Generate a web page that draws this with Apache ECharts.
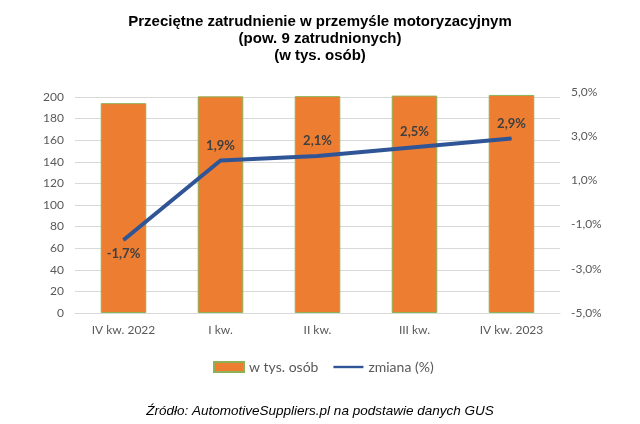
<!DOCTYPE html>
<html><head><meta charset="utf-8">
<script src="https://cdn.jsdelivr.net/npm/echarts@6/dist/echarts.min.js"></script>
<style>html,body{margin:0;padding:0;background:#fff}#c{width:640px;height:424px}</style>
</head><body><div id="c"></div>
<script>
var categories = ['IV kw. 2022', 'I kw.', 'II kw.', 'III kw.', 'IV kw. 2023'];
var employment = [194.3, 200.6, 200.8, 201.3, 201.9];
var change = [-1.7, 1.9, 2.1, 2.5, 2.9];
var leftTicks = [0, 20, 40, 60, 80, 100, 120, 140, 160, 180, 200];
var rightTicks = [-5, -3, -1, 1, 3, 5];

var chart = echarts.init(document.getElementById('c'), null, {renderer: 'canvas'});
var fmtPct = function (v) { return v.toFixed(1).replace('.', ',') + '%'; };
var lineData = change.map(function (v, i) {
  return i === 0 ? {value: v, label: {position: 'bottom', distance: 7}} : v;
});
chart.setOption({
  animation: false,
  backgroundColor: '#fff',
  title: [{
    text: 'Przeciętne zatrudnienie w przemyśle motoryzacyjnym\n(pow. 9 zatrudnionych)\n(w tys. osób)',
    left: 'center', top: 8,
    textStyle: {fontFamily: 'Liberation Sans', fontWeight: 'bold', fontSize: 15, color: '#000', lineHeight: 17}
  }, {
    text: 'Źródło: AutomotiveSuppliers.pl na podstawie danych GUS',
    left: 'center', top: 399,
    textStyle: {fontFamily: 'Liberation Sans', fontStyle: 'italic', fontWeight: 'normal', fontSize: 13.5, color: '#000'}
  }],
  legend: {
    left: 208, top: 355, itemGap: 15, itemWidth: 30, itemHeight: 10,
    textStyle: {fontFamily: 'Lato', fontSize: 14, color: '#595959'},
    data: [
      {name: 'w tys. osób', icon: 'rect'},
      {name: 'zmiana (%)', icon: 'path://M0,0 M30,10 M0,3.8 L30,3.8 L30,6.2 L0,6.2 Z', itemStyle: {color: '#2F5597'}}
    ]
  },
  grid: [
    {left: 75, right: 80, top: 97, bottom: 111},
    {left: 75, right: 80, top: 92, bottom: 111}
  ],
  xAxis: [{
    type: 'category', data: categories, gridIndex: 0,
    axisLine: {lineStyle: {color: '#d9d9d9'}},
    axisTick: {show: false},
    axisLabel: {fontFamily: 'Lato', fontSize: 12, color: '#595959', margin: 11}
  }, {
    type: 'category', data: categories, gridIndex: 1, show: false
  }],
  yAxis: [{
    type: 'value', gridIndex: 0, min: leftTicks[0], max: leftTicks[leftTicks.length - 1], interval: 20,
    axisLine: {show: false}, axisTick: {show: false},
    splitLine: {lineStyle: {color: '#d9d9d9'}},
    axisLabel: {fontFamily: 'Lato', fontSize: 12, color: '#595959', margin: 11}
  }, {
    type: 'value', gridIndex: 1, position: 'right',
    min: rightTicks[0], max: rightTicks[rightTicks.length - 1], interval: 1,
    axisLine: {show: false}, axisTick: {show: false}, splitLine: {show: false},
    axisLabel: {fontFamily: 'Lato', fontSize: 12, color: '#595959', margin: 11,
      formatter: function (v) { return rightTicks.indexOf(v) >= 0 ? fmtPct(v) : ''; }}
  }],
  series: [{
    name: 'w tys. osób', type: 'bar', data: employment, barWidth: '47%', clip: false,
    xAxisIndex: 0, yAxisIndex: 0,
    itemStyle: {color: '#ED7D31', borderColor: '#8DB255', borderWidth: 1}
  }, {
    name: 'zmiana (%)', type: 'line', xAxisIndex: 1, yAxisIndex: 1, data: lineData,
    symbol: 'circle', symbolSize: 1, showSymbol: true, z: 5,
    lineStyle: {color: '#2F5597', width: 4},
    itemStyle: {color: '#2F5597'},
    label: {
      show: true, fontFamily: 'Lato', fontWeight: 'bold', fontSize: 13, color: '#404040',
      position: 'top', distance: 8,
      formatter: function (p) { return fmtPct(p.value); }
    }
  }]
});
</script></body></html>
